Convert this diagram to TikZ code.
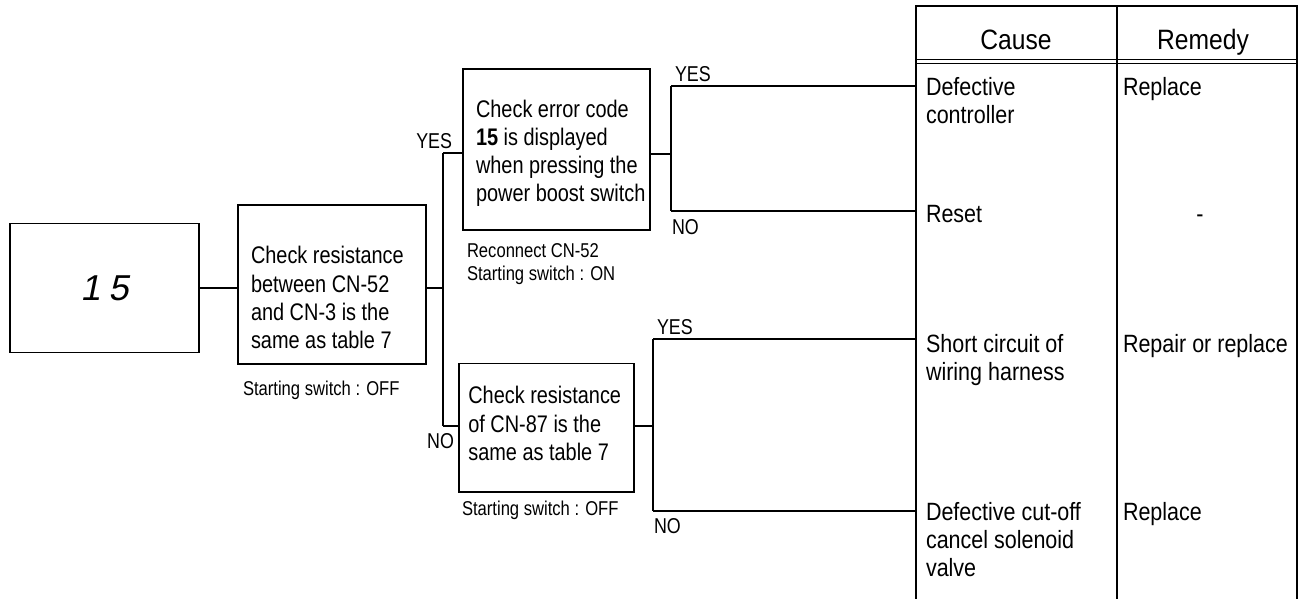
\documentclass[tikz,border=0pt]{standalone}
\usepackage{fontspec}
\setmainfont{Liberation Sans}[FakeStretch=0.83]
\newfontfamily\cellfont{Liberation Sans}[FakeStretch=0.86]
\newfontfamily\headfont{Liberation Sans}[FakeStretch=0.88]
\newfontfamily\segfont{Liberation Sans}[FakeSlant=0.2]
\begin{document}
\begin{tikzpicture}[x=1pt,y=-1pt,
  every node/.style={inner sep=0pt, outer sep=0pt},
  box/.style={draw, line width=1.5pt, rectangle},
  body/.style={font=\fontsize{24}{28.3}\selectfont, align=left},
  cell/.style={font=\cellfont\fontsize{25}{28}\selectfont, align=left},
  note/.style={font=\fontsize{20}{23}\selectfont, align=left},
  tag/.style={font=\fontsize{21.5}{24}\selectfont},
  head/.style={font=\headfont\fontsize{28}{32}\selectfont},
  wire/.style={line width=1.1pt},
  rule/.style={line width=1.4pt}]
\useasboundingbox (0,0) rectangle (1303,599);

% error code display
\node[box, minimum width=189pt, minimum height=129pt,
      font=\segfont\fontsize{36}{40}\selectfont] (b1) at (104.5,288) {1\kern8pt 5};

% first check
\node[box, minimum width=188pt, minimum height=159pt] (b2) at (332,284.5) {};
\node[body, anchor=north west] (t2) at ([xshift=13pt,yshift=-41.5pt]b2.north west)
  {Check resistance\\between CN-52\\and CN-3 is the\\same as table 7};
\node[note, anchor=base west] (n2) at (243,395) {Starting switch : OFF};

% check on the YES branch
\node[box, minimum width=187pt, minimum height=161pt] (b3) at (556.5,149.7) {};
\node[body, anchor=north west] (t3) at ([xshift=13pt,yshift=-30.5pt]b3.north west)
  {Check error code\\\textbf{15} is displayed\\when pressing the\\power boost switch};
\node[note, anchor=north west] (n3) at (467,243.6) {Reconnect CN-52\\Starting switch : ON};

% check on the NO branch
\node[box, minimum width=175pt, minimum height=128.5pt] (b4) at (546.5,427.5) {};
\node[body, anchor=north west] (t4) at ([xshift=9.3pt,yshift=-23.2pt]b4.north west)
  {Check resistance\\of CN-87 is the\\same as table 7};
\node[note, anchor=base west] (n4) at (462,515) {Starting switch : OFF};

% cause / remedy table
\coordinate (tl) at (916,6);
\coordinate (tm) at (1117,6);
\coordinate (tr) at (1297,6);
\coordinate (bl) at (916,599);
\coordinate (bm) at (1117,599);
\coordinate (br) at (1297,599);
\coordinate (hl1) at (916,59.5);
\coordinate (hr1) at (1297,59.5);
\coordinate (hl2) at (916,63);
\coordinate (hr2) at (1297,63);
\draw[rule] (bl) -- (tl) -- (tr) -- (br);
\draw[rule] (tm) -- (bm);
\draw[line width=0.9pt] (hl1) -- (hr1) (hl2) -- (hr2);

\node[head, anchor=base] (hc) at (1016,49.3) {Cause};
\node[head, anchor=base] (hr) at (1203,49.3) {Remedy};

\node[cell, anchor=north west] (c1) at (926,77) {Defective\\controller};
\node[cell, anchor=north west] (r1) at (1123,77) {Replace};
\node[cell, anchor=base west] (c2) at (926,222) {Reset};
\node[cell, anchor=base] (r2) at (1200,222) {-};
\node[cell, anchor=north west] (c3) at (926,334) {Short circuit of\\wiring harness};
\node[cell, anchor=north west] (r3) at (1123,334) {Repair or replace};
\node[cell, anchor=north west] (c4) at (926,502) {Defective cut-off\\cancel solenoid\\valve};
\node[cell, anchor=north west] (r4) at (1123,502) {Replace};

% branch labels
\node[tag, anchor=base east] (y1) at (452,148) {YES};
\node[tag, anchor=base east] (o1) at (454,448) {NO};
\node[tag, anchor=base west] (y2) at (675,82) {YES};
\node[tag, anchor=base west] (o2) at (672,234) {NO};
\node[tag, anchor=base west] (y3) at (657,334) {YES};
\node[tag, anchor=base west] (o3) at (654,533) {NO};

% branch points
\coordinate (ja) at (443,153);
\coordinate (jb) at (443,426);
\coordinate (ka) at (671,154);
\coordinate (kay) at (671,86);
\coordinate (kan) at (671,211);
\coordinate (kb) at (653,426);
\coordinate (kby) at (653,339);
\coordinate (kbn) at (653,511);

% connectors
\draw[wire] (b1.east) -- (b1.east -| b2.west);
\draw[wire] (b1.east -| b2.east) -- (b1.east -| ja);
\draw[wire] (ja) -- (jb);
\draw[wire] (ja) -- (ja -| b3.west);
\draw[wire] (jb) -- (jb -| b4.west);
\draw[wire] (ka -| b3.east) -- (ka);
\draw[wire] (kay) -- (kan);
\draw[wire] (kay) -- (kay -| tl);
\draw[wire] (kan) -- (kan -| tl);
\draw[wire] (kb -| b4.east) -- (kb);
\draw[wire] (kby) -- (kbn);
\draw[wire] (kby) -- (kby -| tl);
\draw[wire] (kbn) -- (kbn -| tl);
\end{tikzpicture}
\end{document}
